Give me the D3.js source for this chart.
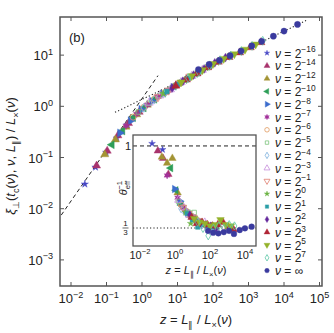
<!DOCTYPE html>
<html><head><meta charset="utf-8">
<script src="https://cdn.jsdelivr.net/npm/d3@7"></script>
<style>
body{margin:0;background:#fff}
text{font-family:"Liberation Sans",Arial,sans-serif;fill:#222}
</style>
</head><body><svg width="334" height="333"></svg>
<script>
// nu values of the series (exponent of 2)
const nuLabels = ["−16","−14","−12","−10","−8","−7","−6","−5","−4","−3","−1","0","1","2","3","5","7","∞"];
// log10 of z = L_par / L_x(nu), one list per series
const log10Z = [
 [-1.61,-1.31,-1.01,-0.71,-0.41],
 [-1.28,-0.98,-0.68,-0.38,-0.08],
 [-1.05,-0.75,-0.45,-0.15,0.15],
 [-0.85,-0.55,-0.25,0.05,0.35],
 [-0.62,-0.32,-0.02,0.28,0.58,0.88],
 [-0.45,-0.15,0.15,0.45,0.75,1.05],
 [-0.25,0.05,0.35,0.65,0.95,1.25],
 [-0.10,0.20,0.50,0.80,1.10,1.40],
 [0.05,0.35,0.65,0.95,1.25,1.55],
 [0.20,0.50,0.80,1.10,1.40,1.70],
 [0.45,0.75,1.05,1.35,1.65,1.95],
 [0.60,0.90,1.20,1.50,1.80,2.10,2.40],
 [0.70,1.00,1.30,1.60,1.90,2.20],
 [0.85,1.15,1.45,1.75,2.05,2.35],
 [0.95,1.25,1.55,1.85,2.15,2.45,2.75,3.05,3.35],
 [1.10,1.40,1.70,2.00,2.30,2.60,2.90,3.20],
 [1.30,1.60,1.90,2.20,2.50,2.80,3.10,3.40],
 [1.59,1.89,2.18,2.48,2.79,3.09,3.37,3.70,4.00,4.38]
];
// log10 of xi_perp / L_x
const log10Xi = [
 [-1.52,-1.19,-0.90,-0.62,-0.36],
 [-1.16,-0.87,-0.57,-0.33,-0.11],
 [-0.94,-0.65,-0.40,-0.16,0.03],
 [-0.75,-0.48,-0.22,-0.03,0.14],
 [-0.52,-0.28,-0.06,0.10,0.24,0.37],
 [-0.38,-0.15,0.03,0.19,0.31,0.45],
 [-0.21,-0.02,0.14,0.27,0.41,0.53],
 [-0.11,0.06,0.21,0.34,0.47,0.59],
 [-0.03,0.13,0.26,0.40,0.53,0.65],
 [0.07,0.21,0.33,0.47,0.59,0.71],
 [0.18,0.31,0.45,0.58,0.70,0.81],
 [0.25,0.38,0.51,0.63,0.75,0.86,0.96],
 [0.29,0.43,0.55,0.67,0.78,0.90],
 [0.36,0.49,0.61,0.73,0.85,0.95],
 [0.40,0.52,0.64,0.76,0.87,0.96,1.05,1.15,1.25],
 [0.47,0.59,0.71,0.83,0.93,1.02,1.11,1.21],
 [0.55,0.67,0.79,0.90,0.99,1.08,1.18,1.28],
 [0.72,0.82,0.90,0.99,1.08,1.18,1.27,1.37,1.47,1.60]
];
// inset: theta_eff^-1 at the same z
const thetaInv = [
 [null,1.02,null,0.97,null],
 [null,0.96,0.90,0.77,null],
 [null,0.91,0.86,0.90,0.62],
 [null,null,0.82,0.64,0.52],
 [null,null,0.65,0.55,0.48,0.44],
 [0.76,null,0.58,0.50,0.45,0.42],
 [null,null,0.52,0.47,0.43,0.40],
 [null,0.55,0.50,0.46,0.46,0.39],
 [null,0.49,0.45,0.41,0.40,0.36],
 [0.56,0.50,0.44,0.41,0.38,0.38],
 [0.50,0.45,0.42,0.39,0.37,0.36],
 [0.46,0.37,0.39,0.37,0.36,0.35,0.34],
 [0.45,0.40,0.34,0.36,0.35,0.34],
 [0.44,0.40,0.37,0.36,0.35,0.33],
 [0.42,0.37,0.38,0.36,0.35,0.36,0.38,0.34,0.32],
 [0.41,0.38,0.37,0.35,0.36,0.40,0.36,0.35],
 [0.38,0.33,0.27,0.33,0.35,0.33,0.36,0.35],
 [null,0.31,0.295,0.29,0.30,0.31,0.285,0.317,0.331,0.344]
];
// asymptotes (log10 z, log10 y)
const smallZLine = {lz:[-2.5,0.45], ly:[-2.35,0.60]};
const largeZLine = {lz:[-0.76,4.65], ly:[-0.118,1.685]};
const xDecades = [-2,-1,0,1,2,3,4,5];
const yDecades = [-3,-2,-1,0,1];
const insetXDecades = [-2,-1,0,1,2,3,4];
const insetXLabels = [-2,0,2,4];

const markerStyle = [
 {shape:"star", color:"#4646c4", fill:true},
 {shape:"triUp", color:"#a8336c", fill:true},
 {shape:"triUp", color:"#a39434", fill:true},
 {shape:"triLeft", color:"#2e9e58", fill:true},
 {shape:"triRight", color:"#3b6ccc", fill:true},
 {shape:"star6", color:"#a2309a", fill:true},
 {shape:"circle", color:"#e0995e", fill:false},
 {shape:"square", color:"#7cc47c", fill:false},
 {shape:"diamond", color:"#7aaedc", fill:false},
 {shape:"triUp", color:"#c68edc", fill:false},
 {shape:"triDown", color:"#e07e6e", fill:false},
 {shape:"star", color:"#6cb444", fill:true},
 {shape:"square", color:"#2a9ea6", fill:true},
 {shape:"diamond", color:"#64289c", fill:true},
 {shape:"triUp", color:"#b02636", fill:true},
 {shape:"triDown", color:"#94b22a", fill:true},
 {shape:"diamond", color:"#5cc6a6", fill:false},
 {shape:"circle", color:"#3a3a9e", fill:true}
];

const svg = d3.select("svg");
const frameColor = "#555";

const x = d3.scaleLog().domain([10**-2.31, 10**5.07]).range([60,322]);
const y = d3.scaleLog().domain([10**-3.51, 10**1.745]).range([286,17]);
const ix = d3.scaleLog().domain([10**-2.4, 10**4.63]).range([133,256]);
const iy = d3.scaleLinear().domain([0.187,1.089]).range([246,135]);

function rich(sel, parts, fs){
  let cur = 0;
  parts.forEach(p=>{
    const s = p.s || 0;
    const off = s===1 ? -0.42*fs : s===-1 ? 0.28*fs : 0;
    const t = sel.append("tspan").text(p.t)
      .attr("dy", off-cur)
      .style("font-size", (s ? fs*0.7 : fs)+"px")
      .style("font-style", p.i ? "italic" : "normal");
    if(p.dx) t.attr("dx", p.dx);
    cur = off;
  });
  return sel;
}

const shapeScale = {star:0.55, star6:0.8, circle:1, square:0.72, diamond:0.75,
  triUp:0.95, triDown:0.95, triLeft:0.95, triRight:0.95};
function markerPath(shape, size){
  size *= shapeScale[shape];
  if(shape==="star6"){
    const r = Math.sqrt(size)*0.75, pts=[];
    for(let k=0;k<12;k++){
      const a = -Math.PI/2 + k*Math.PI/6, rr = k%2 ? r*0.5 : r;
      pts.push([rr*Math.cos(a), rr*Math.sin(a)]);
    }
    return "M"+pts.join("L")+"Z";
  }
  const types = {star:d3.symbolStar, circle:d3.symbolCircle, square:d3.symbolSquare, diamond:d3.symbolDiamond,
    triUp:d3.symbolTriangle, triDown:d3.symbolTriangle, triLeft:d3.symbolTriangle, triRight:d3.symbolTriangle};
  return d3.symbol().type(types[shape]).size(size)();
}
const rot = {triDown:180, triLeft:-90, triRight:90};

function drawMarker(g, k, px, py, size){
  const st = markerStyle[k];
  g.append("path")
    .attr("d", markerPath(st.shape, size))
    .attr("transform", "translate("+px+","+py+") rotate("+(rot[st.shape]||0)+")")
    .attr("fill", st.fill ? st.color : "none")
    .attr("stroke", st.color)
    .attr("stroke-width", st.fill ? 0.4 : 0.8);
}

// ---------- main plot ----------
svg.append("clipPath").attr("id","mainClip").append("rect")
  .attr("x",60).attr("y",17).attr("width",262).attr("height",269);
const plot = svg.append("g").attr("clip-path","url(#mainClip)");

const line = d3.line().x(d=>x(10**d[0])).y(d=>y(10**d[1]));
plot.append("path").datum(d3.zip(smallZLine.lz, smallZLine.ly))
  .attr("d", line).attr("fill","none").attr("stroke","#222").attr("stroke-width",1).attr("stroke-dasharray","4,3");
plot.append("path").datum(d3.zip(largeZLine.lz, largeZLine.ly))
  .attr("d", line).attr("fill","none").attr("stroke","#222").attr("stroke-width",1.1).attr("stroke-dasharray","1.2,2.2");

log10Z.forEach((zs,k)=>{
  zs.forEach((lz,i)=> drawMarker(plot, k, x(10**lz), y(10**log10Xi[k][i]), 30));
});

// frame + inward ticks
svg.append("rect").attr("x",60).attr("y",17).attr("width",262).attr("height",269)
  .attr("fill","none").attr("stroke",frameColor).attr("stroke-width",1.5);
const tk = svg.append("g").attr("stroke",frameColor).attr("stroke-width",1);
xDecades.forEach(d=>{
  const px = x(10**d);
  tk.append("line").attr("x1",px).attr("x2",px).attr("y1",286).attr("y2",282);
  tk.append("line").attr("x1",px).attr("x2",px).attr("y1",17).attr("y2",21);
  rich(svg.append("text").attr("x",px).attr("y",303).attr("text-anchor","middle"),
    [{t:"10"},{t:(d<0?"−":"")+Math.abs(d),s:1}], 13);
});
yDecades.forEach(d=>{
  const py = y(10**d);
  tk.append("line").attr("x1",60).attr("x2",64).attr("y1",py).attr("y2",py);
  tk.append("line").attr("x1",322).attr("x2",318).attr("y1",py).attr("y2",py);
  rich(svg.append("text").attr("x",53).attr("y",py+5).attr("text-anchor","end"),
    [{t:"10"},{t:(d<0?"−":"")+Math.abs(d),s:1}], 13);
});

rich(svg.append("text").attr("x",196).attr("y",324).attr("text-anchor","middle"),
  [{t:"z",i:1},{t:" = "},{t:"L",i:1},{t:"∥",s:-1},{t:" / "},{t:"L",i:1},{t:"×",s:-1},{t:"("},{t:"ν",i:1},{t:")"}], 13);
rich(svg.append("text").attr("transform","translate(15,156) rotate(-90)").attr("text-anchor","middle"),
  [{t:"ξ",i:1},{t:"⊥",s:-1},{t:"("},{t:"t",i:1},{t:"c",s:-1},{t:"("},{t:"ν",i:1},{t:"), "},{t:"ν",i:1},{t:", "},
   {t:"L",i:1},{t:"∥",s:-1},{t:") / "},{t:"L",i:1},{t:"×",s:-1},{t:"("},{t:"ν",i:1},{t:")"}], 13);
svg.append("text").attr("x",69).attr("y",42).style("font-size","13px").text("(b)");

// ---------- legend ----------
const leg = svg.append("g");
nuLabels.forEach((n,k)=>{
  const py = 53 + k*12.8;
  drawMarker(leg, k, 267, py, 16);
  const parts = n==="∞" ? [{t:"ν",i:1},{t:" = ∞"}] : [{t:"ν",i:1},{t:" = 2"},{t:n,s:1}];
  rich(leg.append("text").attr("x",275).attr("y",py+4.5), parts, 12);
});

// ---------- inset ----------
svg.append("rect").attr("x",133).attr("y",135).attr("width",123).attr("height",111).attr("fill","#fff");
const ins = svg.append("g");
ins.append("line").attr("x1",133).attr("x2",256).attr("y1",iy(1)).attr("y2",iy(1))
  .attr("stroke","#222").attr("stroke-dasharray","4,3");
ins.append("line").attr("x1",133).attr("x2",256).attr("y1",iy(1/3)).attr("y2",iy(1/3))
  .attr("stroke","#222").attr("stroke-width",1.1).attr("stroke-dasharray","1.2,2.2");
log10Z.forEach((zs,k)=>{
  zs.forEach((lz,i)=>{
    const v = thetaInv[k][i];
    if(v!==null) drawMarker(ins, k, ix(10**lz), iy(v), 26);
  });
});
svg.append("rect").attr("x",133).attr("y",135).attr("width",123).attr("height",111)
  .attr("fill","none").attr("stroke",frameColor).attr("stroke-width",1.3);
insetXDecades.forEach(d=>{
  const px = ix(10**d);
  tk.append("line").attr("x1",px).attr("x2",px).attr("y1",246).attr("y2",243);
  tk.append("line").attr("x1",px).attr("x2",px).attr("y1",135).attr("y2",138);
});
insetXLabels.forEach(d=>{
  rich(svg.append("text").attr("x",ix(10**d)).attr("y",259).attr("text-anchor","middle"),
    [{t:"10"},{t:(d<0?"−":"")+Math.abs(d),s:1}], 11);
});
[1,1/3].forEach(v=>{
  tk.append("line").attr("x1",133).attr("x2",136).attr("y1",iy(v)).attr("y2",iy(v));
  tk.append("line").attr("x1",256).attr("x2",253).attr("y1",iy(v)).attr("y2",iy(v));
});
svg.append("text").attr("x",128).attr("y",iy(1)+4).attr("text-anchor","middle").style("font-size","11px").text("1");
svg.append("text").attr("x",125.5).attr("y",iy(1/3)-1.5).attr("text-anchor","middle").style("font-size","8px").text("1");
svg.append("line").attr("x1",122.5).attr("x2",128.5).attr("y1",iy(1/3)).attr("y2",iy(1/3)).attr("stroke","#222").attr("stroke-width",0.7);
svg.append("text").attr("x",125.5).attr("y",iy(1/3)+7.5).attr("text-anchor","middle").style("font-size","8px").text("3");
rich(svg.append("text").attr("transform","translate(127,188) rotate(-90)").attr("text-anchor","middle"),
  [{t:"θ",i:1},{t:"eff",s:-1},{t:"−1",s:1,dx:-9}], 11);
rich(svg.append("text").attr("x",196).attr("y",274).attr("text-anchor","middle"),
  [{t:"z",i:1},{t:" = "},{t:"L",i:1},{t:"∥",s:-1},{t:" / "},{t:"L",i:1},{t:"×",s:-1},{t:"("},{t:"ν",i:1},{t:")"}], 11);
</script>
</body></html>
